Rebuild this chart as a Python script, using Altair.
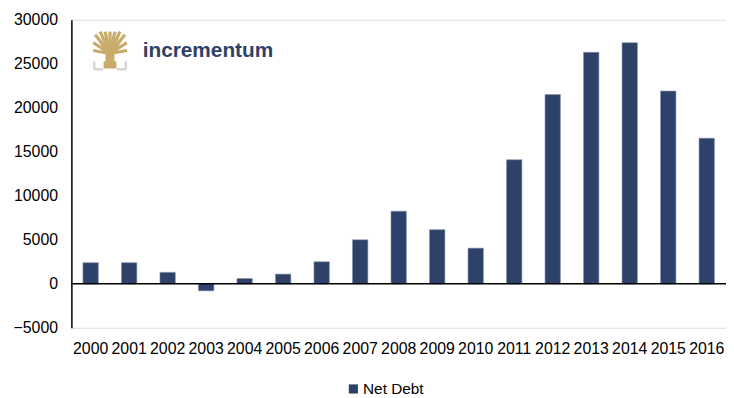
import altair as alt
import pandas as pd

years = [str(y) for y in range(2000, 2017)]
net_debt = [2400, 2400, 1300, -800, 600, 1100, 2500, 5000, 8250, 6150, 4050,
            14100, 21500, 26300, 27400, 21900, 16550]
y_ticks = [-5000, 0, 5000, 10000, 15000, 20000, 25000, 30000]
series_name = "Net Debt"
logo_text = "incrementum"

df = pd.DataFrame({"year": years, "value": net_debt, "series": series_name})

W, H = 661, 311
NAVY = "#2E4168"
GOLD = "#C9AB6A"
FS = 16

bars = alt.Chart(df).mark_bar(stroke="#8593b3", strokeWidth=0.6).encode(
    x=alt.X("year:N", sort=years,
            scale=alt.Scale(paddingInner=0.6, paddingOuter=0.3),
            axis=alt.Axis(title=None, labelAngle=0, domain=False, ticks=False,
                          labelFont="Liberation Sans", labelFontSize=FS,
                          labelColor="black", labelPadding=13)),
    y=alt.Y("value:Q", scale=alt.Scale(domain=[-5000, 30000], nice=False),
            axis=alt.Axis(title=None, values=y_ticks, format="d", grid=False,
                          ticks=False, domainColor="black", domainWidth=1.5,
                          labelFont="Liberation Sans", labelFontSize=FS,
                          labelColor="black", labelPadding=14)),
    color=alt.Color("series:N", scale=alt.Scale(range=[NAVY]),
                    legend=alt.Legend(title=None, orient="none", legendX=277,
                                      legendY=365, symbolType="square",
                                      symbolSize=85, symbolStrokeWidth=0,
                                      labelFont="Liberation Sans",
                                      labelFontSize=15.5, labelColor="black",
                                      labelOffset=2)),
)

zero = alt.Chart(pd.DataFrame({"z": [0]})).mark_rule(
    color="black", strokeWidth=1.5).encode(y="z:Q")

# logo decoration (pixel positions within plot area)
ox, oy = 72, 18
bx, by = 111, 52
ends = [(94, 49), (94, 41), (96, 33), (101, 30), (106, 30), (111, 30),
        (116, 30), (121, 30), (126, 33), (128, 41), (128, 49)]
gold_rows = [{"x": 111, "y": 67, "x2": 111, "y2": 47, "w": 9},
             {"x": 111, "y": 67, "x2": 111, "y2": 60, "w": 13}]
for ex, ey in ends:
    gold_rows.append({"x": bx, "y": by, "x2": ex, "y2": ey, "w": 3.2})
for ex, ey in [(100, 38), (122, 38), (104, 44), (118, 44)]:
    gold_rows.append({"x": bx, "y": by + 3, "x2": ex, "y2": ey, "w": 2.8})
gold_lines = pd.DataFrame(gold_rows)
gold_lines[["x", "x2"]] -= ox
gold_lines[["y", "y2"]] -= oy
gold = alt.Chart(gold_lines).mark_rule(color=GOLD, strokeCap="butt").encode(
    x=alt.X("x:Q", scale=None), y=alt.Y("y:Q", scale=None),
    x2="x2:Q", y2="y2:Q", strokeWidth=alt.StrokeWidth("w:Q", scale=None))

grey_lines = pd.DataFrame({
    "x":  [95, 95, 127, 127],
    "y":  [60, 68, 60, 68],
    "x2": [95, 104, 127, 118],
    "y2": [68, 68, 68, 68],
})
grey_lines[["x", "x2"]] -= ox
grey_lines[["y", "y2"]] -= oy
grey = alt.Chart(grey_lines).mark_rule(color="#d6d6d6", strokeWidth=2.5).encode(
    x=alt.X("x:Q", scale=None), y=alt.Y("y:Q", scale=None),
    x2="x2:Q", y2="y2:Q")

logo = alt.Chart(pd.DataFrame({"t": [logo_text]})).mark_text(
    align="left", baseline="middle", font="Liberation Sans", fontSize=21,
    fontWeight="bold", color=NAVY).encode(
    x=alt.value(144 - ox), y=alt.value(50 - oy), text="t:N")

chart = alt.layer(bars, zero, grey, gold, logo).properties(
    width=W, height=H,
    autosize=alt.AutoSizeParams(type="none"),
    padding={"left": 64, "top": 10, "right": 0, "bottom": 72},
).configure_view(stroke=None).configure(background="white")

chart.save("out.html", embed_options={"renderer": "svg", "actions": False})
